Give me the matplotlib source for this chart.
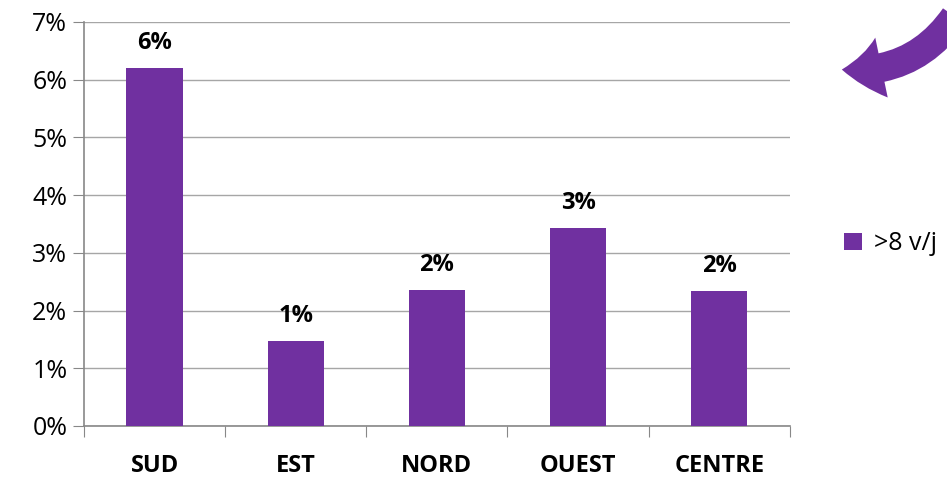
import matplotlib
matplotlib.use("Agg")
import matplotlib.pyplot as plt
from matplotlib.patches import FancyArrowPatch

# data
regions = ["SUD", "EST", "NORD", "OUEST", "CENTRE"]
share = [6.2, 1.47, 2.36, 3.43, 2.34]
series_name = ">8 v/j"
yticks = [0, 1, 2, 3, 4, 5, 6, 7]

purple = "#7030A0"
plt.rcParams["font.family"] = ["Open Sans", "DejaVu Sans"]

fig = plt.figure(figsize=(9.47, 4.78), dpi=100)
ax = fig.add_axes([0.0887, 0.1088, 0.834 - 0.0887, 0.954 - 0.1088])

x = range(len(regions))
bars = ax.bar(x, share, width=0.4, color=purple, zorder=3, label=series_name)

# rounded labels above bars
for i, v in enumerate(share):
    ax.text(i, v + 0.22, f"{round(v):.0f}%", ha="center", va="bottom",
            fontsize=17, fontweight="bold")

ax.set_xlim(-0.5, len(regions) - 0.5)
ax.set_ylim(0, 7)
ax.set_yticks(yticks)
ax.set_yticklabels([f"{t}%" for t in yticks], fontsize=18)
ax.yaxis.grid(True, color="#a6a6a6", linewidth=1, zorder=0)

# category labels between boundary ticks
ax.set_xticks([i - 0.5 for i in range(len(regions) + 1)])
ax.set_xticklabels([])
ax.set_xticks(list(x), minor=True)
ax.set_xticklabels(regions, minor=True, fontsize=17, fontweight="bold")
ax.tick_params(axis="x", which="major", length=8, color="#888888", direction="out")
ax.tick_params(axis="x", which="minor", length=0, pad=20)
ax.tick_params(axis="y", length=8, color="#888888", pad=4)

for s in ["top", "right"]:
    ax.spines[s].set_visible(False)
for s in ["left", "bottom"]:
    ax.spines[s].set_color("#888888")
    ax.spines[s].set_linewidth(1.2)

leg = fig.legend(loc="center left", bbox_to_anchor=(0.868, 0.49), frameon=False,
                 fontsize=18, handlelength=0.7, handleheight=0.7, handletextpad=0.5)

# curved arrow in the top right corner
arrow = FancyArrowPatch((1.01, 0.97), (0.886, 0.855), transform=fig.transFigure,
                        connectionstyle="arc3,rad=-0.3",
                        arrowstyle="simple,head_length=1.3,head_width=2.0,tail_width=0.95",
                        mutation_scale=22, color=purple, linewidth=0)
fig.patches.append(arrow)

fig.savefig("out.png", dpi=100)
